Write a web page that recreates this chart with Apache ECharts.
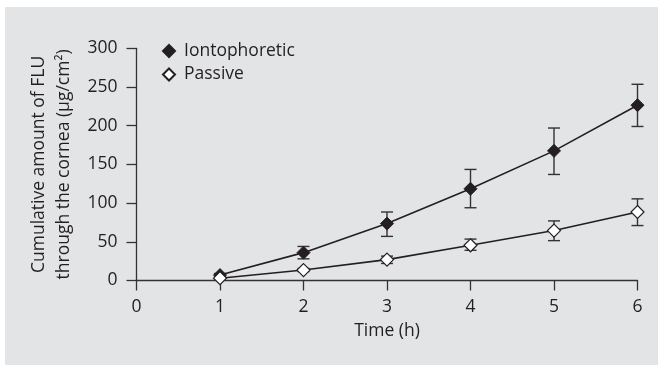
<!DOCTYPE html>
<html>
<head>
<meta charset="utf-8">
<script src="https://cdn.jsdelivr.net/npm/echarts@6/dist/echarts.min.js"></script>
<style>
  html, body { margin: 0; padding: 0; background: #ffffff; width: 661px; height: 366px; overflow: hidden; }
  #chart { position: absolute; left: 5px; top: 7px; width: 653px; height: 358px; }
</style>
</head>
<body>
<div id="chart"></div>
<script>
// Data
const timeHours = [1, 2, 3, 4, 5, 6];
const xTicks = [0, 1, 2, 3, 4, 5, 6];
const yTicks = [0, 50, 100, 150, 200, 250, 300];
const iontoMean = [7, 36, 73.5, 118.5, 167.5, 226.5];
const iontoLow  = [5, 28, 57, 94, 137, 199];
const iontoHigh = [9, 44, 88.5, 143.5, 197, 253.5];
const passiveMean = [3, 13.5, 27, 45.5, 64.5, 88.5];
const passiveLow  = [2, 11.5, 22, 39, 51.5, 71];
const passiveHigh = [4, 15.5, 31.5, 53.5, 77, 105.5];
const seriesNames = ['Iontophoretic', 'Passive'];

const ink = '#231f20';
const font = 'Open Sans';
const fs = 17.5;

function pairs(xs, ys) { return xs.map((x, i) => [x, ys[i]]); }
function errData(xs, lo, hi) { return xs.map((x, i) => [x, lo[i], hi[i]]); }

function errorRender(params, api) {
  const x = api.value(0);
  const p1 = api.coord([x, api.value(1)]);
  const p2 = api.coord([x, api.value(2)]);
  const w = 6;
  const st = { stroke: '#333333', lineWidth: 1.4, fill: null };
  return {
    type: 'group',
    children: [
      { type: 'line', shape: { x1: p1[0], y1: p1[1], x2: p2[0], y2: p2[1] }, style: st },
      { type: 'line', shape: { x1: p1[0] - w, y1: p1[1], x2: p1[0] + w, y2: p1[1] }, style: st },
      { type: 'line', shape: { x1: p2[0] - w, y1: p2[1], x2: p2[0] + w, y2: p2[1] }, style: st }
    ]
  };
}

const chart = echarts.init(document.getElementById('chart'), null, { renderer: 'canvas' });
chart.setOption({
  backgroundColor: '#e3e4e6',
  animation: false,
  textStyle: { fontFamily: font, color: ink },
  grid: { left: 131.5, right: 20.5, top: 41.3, bottom: 84.5, containLabel: false },
  legend: {
    orient: 'vertical',
    left: 152,
    top: 30,
    itemWidth: 12,
    itemHeight: 12,
    itemGap: 5.5,
    textStyle: { fontFamily: font, fontSize: fs, color: ink, padding: [0, 0, 0, 4] },
    data: [
      { name: seriesNames[0], icon: 'diamond' },
      { name: seriesNames[1], icon: 'diamond' }
    ]
  },
  xAxis: {
    type: 'value',
    min: xTicks[0],
    max: xTicks[xTicks.length - 1],
    interval: 1,
    name: 'Time (h)',
    nameLocation: 'middle',
    nameGap: 42,
    nameTextStyle: { fontFamily: font, fontSize: fs, color: ink },
    axisLine: { show: true, onZero: true, lineStyle: { color: '#333333', width: 1.3 } },
    axisTick: { show: true, inside: false, length: 10, lineStyle: { color: '#333333', width: 1.3 } },
    axisLabel: { fontFamily: font, fontSize: fs, color: ink, margin: 18 },
    splitLine: { show: false }
  },
  yAxis: {
    type: 'value',
    min: yTicks[0],
    max: yTicks[yTicks.length - 1],
    interval: 50,
    name: 'Cumulative amount of FLU\nthrough the cornea (μg/cm²)',
    nameLocation: 'middle',
    nameRotate: 90,
    nameGap: 54,
    nameTextStyle: { fontFamily: font, fontSize: fs, color: ink, lineHeight: 25 },
    axisLine: { show: true, lineStyle: { color: '#333333', width: 1.3 } },
    axisTick: { show: true, inside: false, length: 10, lineStyle: { color: '#333333', width: 1.3 } },
    axisLabel: { fontFamily: font, fontSize: fs, color: ink, margin: 19 },
    splitLine: { show: false }
  },
  series: [
    {
      name: seriesNames[0] + ' err', type: 'custom', renderItem: errorRender,
      data: errData(timeHours, iontoLow, iontoHigh), z: 1, silent: true
    },
    {
      name: seriesNames[1] + ' err', type: 'custom', renderItem: errorRender,
      data: errData(timeHours, passiveLow, passiveHigh), z: 1, silent: true
    },
    {
      name: seriesNames[0], type: 'line', data: pairs(timeHours, iontoMean),
      symbol: 'diamond', symbolSize: 13, showAllSymbol: true, z: 3,
      lineStyle: { color: ink, width: 1.6 },
      itemStyle: { color: ink, borderColor: ink, borderWidth: 1 }
    },
    {
      name: seriesNames[1], type: 'line', data: pairs(timeHours, passiveMean),
      symbol: 'diamond', symbolSize: 13, showAllSymbol: true, z: 3,
      lineStyle: { color: ink, width: 1.6 },
      itemStyle: { color: '#ffffff', borderColor: ink, borderWidth: 1.2 }
    }
  ]
});
</script>
</body>
</html>
